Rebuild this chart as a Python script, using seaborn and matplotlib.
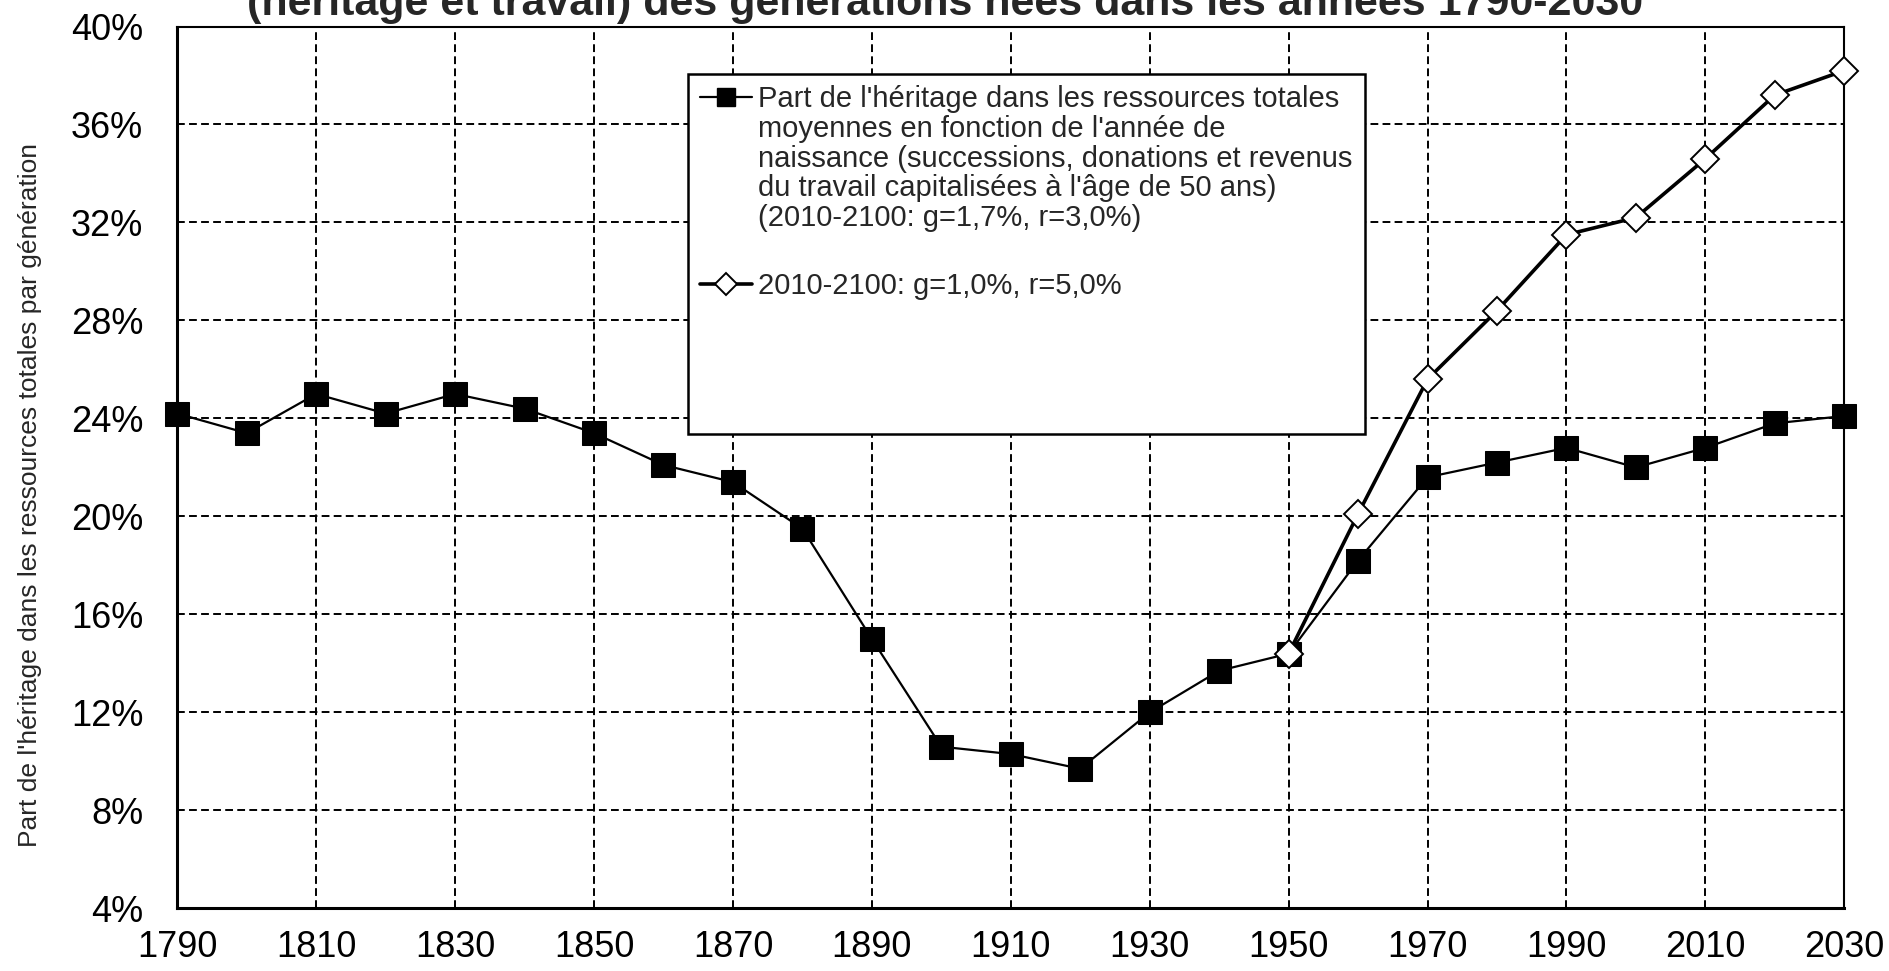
import numpy as np
import pandas as pd
import matplotlib
matplotlib.use("Agg")
import matplotlib.pyplot as plt
import seaborn as sns
from matplotlib.patches import Rectangle
from matplotlib.lines import Line2D
from matplotlib.ticker import FuncFormatter, FixedLocator

# ---------------- data ----------------
years = list(range(1790, 2031, 10))
part_heritage = [24.2, 23.4, 25.0, 24.2, 25.0, 24.4, 23.4, 22.1, 21.4, 19.5,
                 15.0, 10.6, 10.3, 9.7, 12.0, 13.7, 14.4, 18.2, 21.6, 22.2,
                 22.8, 22.0, 22.8, 23.8, 24.1]
years_alt = list(range(1950, 2031, 10))
part_alt = [14.4, 20.1, 25.6, 28.4, 31.5, 32.2, 34.6, 37.2, 38.2]

x_ticks = list(range(1790, 2031, 20))
y_ticks = list(range(4, 41, 4))

label1_lines = ["Part de l'héritage dans les ressources totales",
                "moyennes en fonction de l'année de",
                "naissance (successions, donations et revenus",
                "du travail capitalisées à l'âge de 50 ans)",
                "(2010-2100: g=1,7%, r=3,0%)"]
label2 = "2010-2100: g=1,0%, r=5,0%"
title = ("Part de l'héritage dans les ressources totales\n"
         "(héritage et travail) des générations nées dans les années 1790-2030")
ylabel = "Part de l'héritage dans les ressources totales par génération"

df1 = pd.DataFrame({"annee": years, "part": part_heritage})
df2 = pd.DataFrame({"annee": years_alt, "part": part_alt})

# ---------------- style ----------------
sns.set_style("white")
plt.rcParams['font.family'] = ['Liberation Sans', 'DejaVu Sans']

fig = plt.figure(figsize=(18.9, 9.71), dpi=100)
ax = fig.add_axes([0.0938, 0.0645, 0.882, 0.9082])

sns.lineplot(data=df1, x="annee", y="part", ax=ax, color="black", linewidth=1.6,
             marker="s", markersize=17, markerfacecolor="black",
             markeredgecolor="black", zorder=3, clip_on=False)
sns.lineplot(data=df2, x="annee", y="part", ax=ax, color="black", linewidth=2.6,
             marker="D", markersize=14, markerfacecolor="white",
             markeredgecolor="black", markeredgewidth=1.4, zorder=4, clip_on=False)

ax.set_xlim(1790, 2030)
ax.set_ylim(4, 40)
ax.xaxis.set_major_locator(FixedLocator(x_ticks))
ax.yaxis.set_major_locator(FixedLocator(y_ticks))
ax.yaxis.set_major_formatter(FuncFormatter(lambda v, p: f"{int(round(v))}%"))
ax.tick_params(axis='both', labelsize=26, colors='black', direction='out',
               length=7.5, width=1.6)
ax.tick_params(axis='y', pad=17)
ax.tick_params(axis='x', pad=8)

ax.grid(True, color='black', linestyle=(0, (4, 2.2)), linewidth=1.4)
ax.set_axisbelow(True)
for s in ['top', 'right']:
    ax.spines[s].set_color('black')
    ax.spines[s].set_linewidth(1.5)
for s in ['left', 'bottom']:
    ax.spines[s].set_color('black')
    ax.spines[s].set_linewidth(2.2)
for s in ax.spines.values():
    s.set_zorder(2.5)

ax.set_xlabel("")
ax.set_ylabel(ylabel, fontsize=19)
ax.yaxis.set_label_coords(-0.081, 0.469)

# title (top line falls outside the figure, as in the reference)
fig.text(0.5, 0.9846, title, ha='center', va='baseline', fontsize=31,
         fontweight='bold', linespacing=1.3)

# legend box
rect = Rectangle((0.3065, 0.538), 0.4062, 0.408, transform=ax.transAxes,
                 facecolor='white', edgecolor='black', linewidth=1.8, zorder=5)
ax.add_patch(rect)

h1 = Line2D([], [], color='black', linewidth=1.6, marker='s', markersize=13,
            markerfacecolor='black', markeredgecolor='black')
h2 = Line2D([], [], color='black', linewidth=2.6, marker='D', markersize=11,
            markerfacecolor='white', markeredgecolor='black', markeredgewidth=1.4)

leg_kw = dict(frameon=False, fontsize=21, handlelength=1.78, handletextpad=0.2,
              borderpad=0, borderaxespad=0)
leg1 = ax.legend([h1], [label1_lines[0]], loc='center left',
                 bbox_to_anchor=(0.3137, 0.918), **leg_kw)
leg1.set_zorder(6)
ax.add_artist(leg1)
leg2 = ax.legend([h2], [label2], loc='center left',
                 bbox_to_anchor=(0.3137, 0.706), **leg_kw)
leg2.set_zorder(6)

# remaining lines of the first legend label, aligned under its first line
fig.canvas.draw()
renderer = fig.canvas.get_renderer()
t0 = leg1.get_texts()[0]
bb = t0.get_window_extent(renderer)
pitch_px = 30.0
x0, ytop = fig.transFigure.inverted().transform((bb.x0, bb.y1 - pitch_px))
fig.text(x0, ytop, "\n".join(label1_lines[1:]), ha='left', va='top',
         fontsize=21, linespacing=1.08, zorder=7)

fig.savefig("out.png", dpi=100)
